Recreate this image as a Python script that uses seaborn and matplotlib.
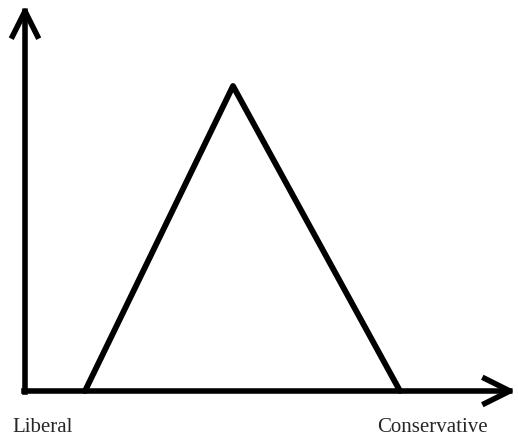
import matplotlib
matplotlib.use('Agg')
import matplotlib.pyplot as plt
import seaborn as sns

# 이념 분포 (좌표 원점 = 축 모서리)
ideology = [60, 208, 375]
voters = [0, 305, 0]
labels = ['Liberal', 'Conservative']

sns.set_style('white')
plt.rcParams['font.family'] = ['Liberation Serif', 'DejaVu Serif']

fig = plt.figure(figsize=(5.18, 4.41), dpi=100)
ax = fig.add_axes([0, 0, 1, 1])
ax.set_xlim(-25, 493)
ax.set_ylim(-50, 391)
ax.axis('off')

# 화살표 축
arrow = dict(arrowstyle='->,head_length=0.9,head_width=0.45', lw=4.0, color='black',
             mutation_scale=20, shrinkA=0, shrinkB=0, capstyle='projecting', joinstyle='round')
ax.annotate('', xy=(491, 0), xytext=(-1, 0), arrowprops=arrow)
ax.annotate('', xy=(0, 386), xytext=(0, -1), arrowprops=arrow)

# 삼각형 분포
sns.lineplot(x=ideology, y=voters, sort=False, color='black', lw=4.2, ax=ax)

ax.text(-13, -37, labels[0], fontsize=15, va='center', ha='left')
ax.text(352, -37, labels[1], fontsize=15, va='center', ha='left')

fig.savefig('out.png', dpi=100)
